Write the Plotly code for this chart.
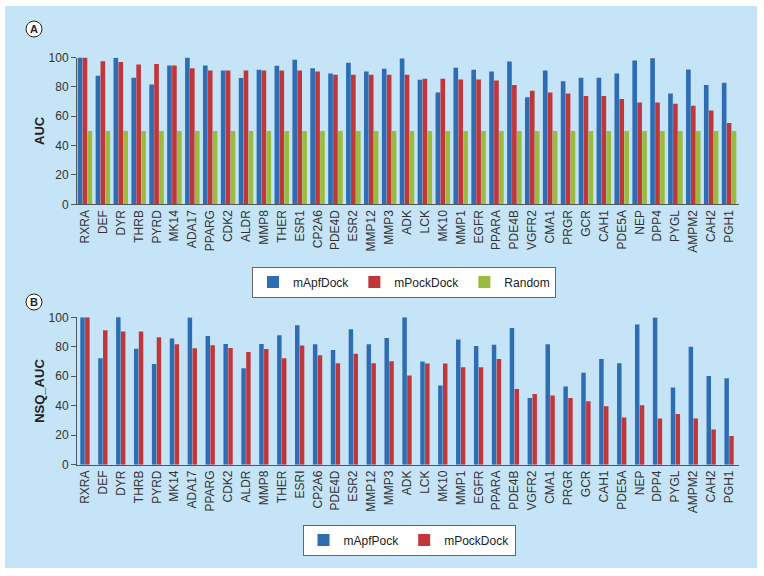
import plotly.graph_objects as go

categories_a = ["RXRA", "DEF", "DYR", "THRB", "PYRD", "MK14", "ADA17", "PPARG", "CDK2", "ALDR",
                "MMP8", "THER", "ESR1", "CP2A6", "PDE4D", "ESR2", "MMP12", "MMP3", "ADK", "LCK",
                "MK10", "MMP1", "EGFR", "PPARA", "PDE4B", "VGFR2", "CMA1", "PRGR", "GCR", "CAH1",
                "PDE5A", "NEP", "DPP4", "PYGL", "AMPM2", "CAH2", "PGH1"]
categories_b = ["RXRA", "DEF", "DYR", "THRB", "PYRD", "MK14", "ADA17", "PPARG", "CDK2", "ALDR",
                "MMP8", "THER", "ESRI", "CP2A6", "PDE4D", "ESR2", "MMP12", "MMP3", "ADK", "LCK",
                "MK10", "MMP1", "EGFR", "PPARA", "PDE4B", "VGFR2", "CMA1", "PRGR", "GCR", "CAH1",
                "PDE5A", "NEP", "DPP4", "PYGL", "AMPM2", "CAH2", "PGH1"]

auc_mapfdock = [100, 87.5, 99.8, 86.2, 81.6, 94.6, 100, 94.6, 91.2, 86.0,
                91.6, 94.3, 98.4, 92.7, 89.1, 96.4, 90.5, 92.3, 99.3, 84.8,
                76.2, 93.0, 91.6, 90.5, 97.3, 73.0, 91.2, 83.9, 86.2, 86.2,
                89.1, 98.0, 99.5, 75.5, 91.8, 81.2, 82.8]
auc_mpockdock = [100, 97.5, 97.0, 95.2, 95.5, 94.6, 92.7, 91.2, 91.2, 91.2,
                 91.2, 91.2, 91.2, 90.5, 88.2, 88.2, 88.2, 88.2, 88.2, 85.5,
                 85.5, 85.0, 85.0, 84.4, 81.2, 77.3, 76.2, 75.5, 73.7, 73.7,
                 71.7, 69.4, 69.4, 68.5, 67.1, 63.9, 55.3]
auc_random = [50] * 37

nsq_mapfpock = [100, 72.2, 101, 78.7, 68.3, 85.7, 99.8, 87.3, 81.9, 65.4,
                81.9, 87.8, 94.6, 81.7, 77.8, 91.9, 81.7, 86.0, 100, 70.0,
                53.8, 85.0, 80.5, 81.4, 92.8, 45.2, 81.7, 53.0, 62.4, 71.7,
                68.8, 95.2, 99.8, 52.3, 80.0, 60.2, 58.6]
nsq_mpockdock = [100, 91.2, 90.3, 90.3, 86.4, 81.7, 79.0, 81.0, 79.2, 76.5,
                 78.5, 72.2, 80.8, 74.2, 68.8, 75.3, 68.8, 70.1, 60.6, 68.6,
                 68.6, 66.1, 66.1, 71.7, 51.4, 48.0, 47.0, 45.2, 43.0, 39.6,
                 32.1, 40.3, 31.4, 34.4, 31.4, 23.8, 19.5]

y_ticks = [0, 20, 40, 60, 80, 100]

BLUE = "#2e6db4"
RED = "#c0373a"
GREEN = "#9bbb3e"
BG = "#c6e4f7"
FONT = "Liberation Sans, Arial, sans-serif"

xs = list(range(len(categories_a)))

fig = go.Figure()
fig.add_trace(go.Bar(x=xs, y=auc_mapfdock, name="mApfDock", marker_color=BLUE,
                     width=0.26, offset=-0.41, xaxis="x", yaxis="y", legend="legend"))
fig.add_trace(go.Bar(x=xs, y=auc_mpockdock, name="mPockDock", marker_color=RED,
                     width=0.26, offset=-0.135, xaxis="x", yaxis="y", legend="legend"))
fig.add_trace(go.Bar(x=xs, y=auc_random, name="Random", marker_color=GREEN,
                     width=0.26, offset=0.14, xaxis="x", yaxis="y", legend="legend"))
fig.add_trace(go.Bar(x=xs, y=nsq_mapfpock, name="mApfPock", marker_color=BLUE,
                     width=0.25, offset=-0.265, xaxis="x2", yaxis="y2", legend="legend2"))
fig.add_trace(go.Bar(x=xs, y=nsq_mpockdock, name="mPockDock", marker_color=RED,
                     width=0.25, offset=0.005, xaxis="x2", yaxis="y2", legend="legend2"))

for tr in fig.data:
    tr.marker.line.width = 0

xdom = [77 / 764, 739 / 764]
common_x = dict(domain=xdom, range=[-0.45, 36.55], tickmode="array", tickvals=xs,
                tickangle=-90, ticks="", showline=True, linecolor="#555", linewidth=1,
                automargin=False,
                tickfont=dict(family=FONT, size=12, color="#333"), showgrid=False, zeroline=False)
common_y = dict(range=[0, 100], tickvals=y_ticks, ticks="outside", ticklen=5, tickcolor="#555",
                showline=True, linecolor="#555", linewidth=1, showgrid=False, zeroline=False,
                automargin=False,
                tickfont=dict(family=FONT, size=12, color="#333"))

fig.update_layout(
    width=764, height=576,
    margin=dict(l=0, r=0, t=0, b=0),
    paper_bgcolor="white", plot_bgcolor="white",
    barmode="overlay",
    font=dict(family=FONT, color="#333"),
    xaxis=dict(common_x, ticktext=categories_a, anchor="y"),
    yaxis=dict(common_y, domain=[1 - 204.3 / 576, 1 - 57.5 / 576], anchor="x",
               title=dict(text="<b>AUC</b>", font=dict(family=FONT, size=13, color="#222"), standoff=1)),
    xaxis2=dict(common_x, ticktext=categories_b, anchor="y2"),
    yaxis2=dict(common_y, domain=[1 - 464.7 / 576, 1 - 317.3 / 576], anchor="x2",
                title=dict(text="<b>NSQ_AUC</b>", font=dict(family=FONT, size=13, color="#222"), standoff=1)),
    legend=dict(orientation="h", x=404 / 764, y=1 - 282 / 576, xanchor="center", yanchor="middle",
                bgcolor="white", bordercolor="#666", borderwidth=1, itemwidth=30,
                font=dict(family=FONT, size=12, color="#222"), itemsizing="constant",
                traceorder="normal"),
    legend2=dict(orientation="h", x=409 / 764, y=1 - 540 / 576, xanchor="center", yanchor="middle",
                 bgcolor="white", bordercolor="#666", borderwidth=1, itemwidth=30,
                 font=dict(family=FONT, size=12, color="#222"), itemsizing="constant",
                 traceorder="normal"),
    shapes=[
        dict(type="rect", xref="paper", yref="paper", x0=5 / 764, x1=757 / 764,
             y0=1 - 568 / 576, y1=1 - 6 / 576, fillcolor=BG, line=dict(width=0), layer="below"),
        dict(type="circle", xref="paper", yref="paper", x0=26 / 764, x1=42 / 764,
             y0=1 - 37 / 576, y1=1 - 21 / 576, fillcolor="white", line=dict(color="#222", width=1)),
        dict(type="circle", xref="paper", yref="paper", x0=26 / 764, x1=42 / 764,
             y0=1 - 310 / 576, y1=1 - 294 / 576, fillcolor="white", line=dict(color="#222", width=1)),
    ],
    annotations=[
        dict(text="<b>A</b>", x=34 / 764, y=1 - 29 / 576, xref="paper", yref="paper",
             showarrow=False, font=dict(family=FONT, size=11, color="#222"), xanchor="center", yanchor="middle"),
        dict(text="<b>B</b>", x=34 / 764, y=1 - 302 / 576, xref="paper", yref="paper",
             showarrow=False, font=dict(family=FONT, size=11, color="#222"), xanchor="center", yanchor="middle"),
    ],
)

fig.write_html("out.html", config={"displayModeBar": False},
               post_script="document.body.style.margin='0';")
